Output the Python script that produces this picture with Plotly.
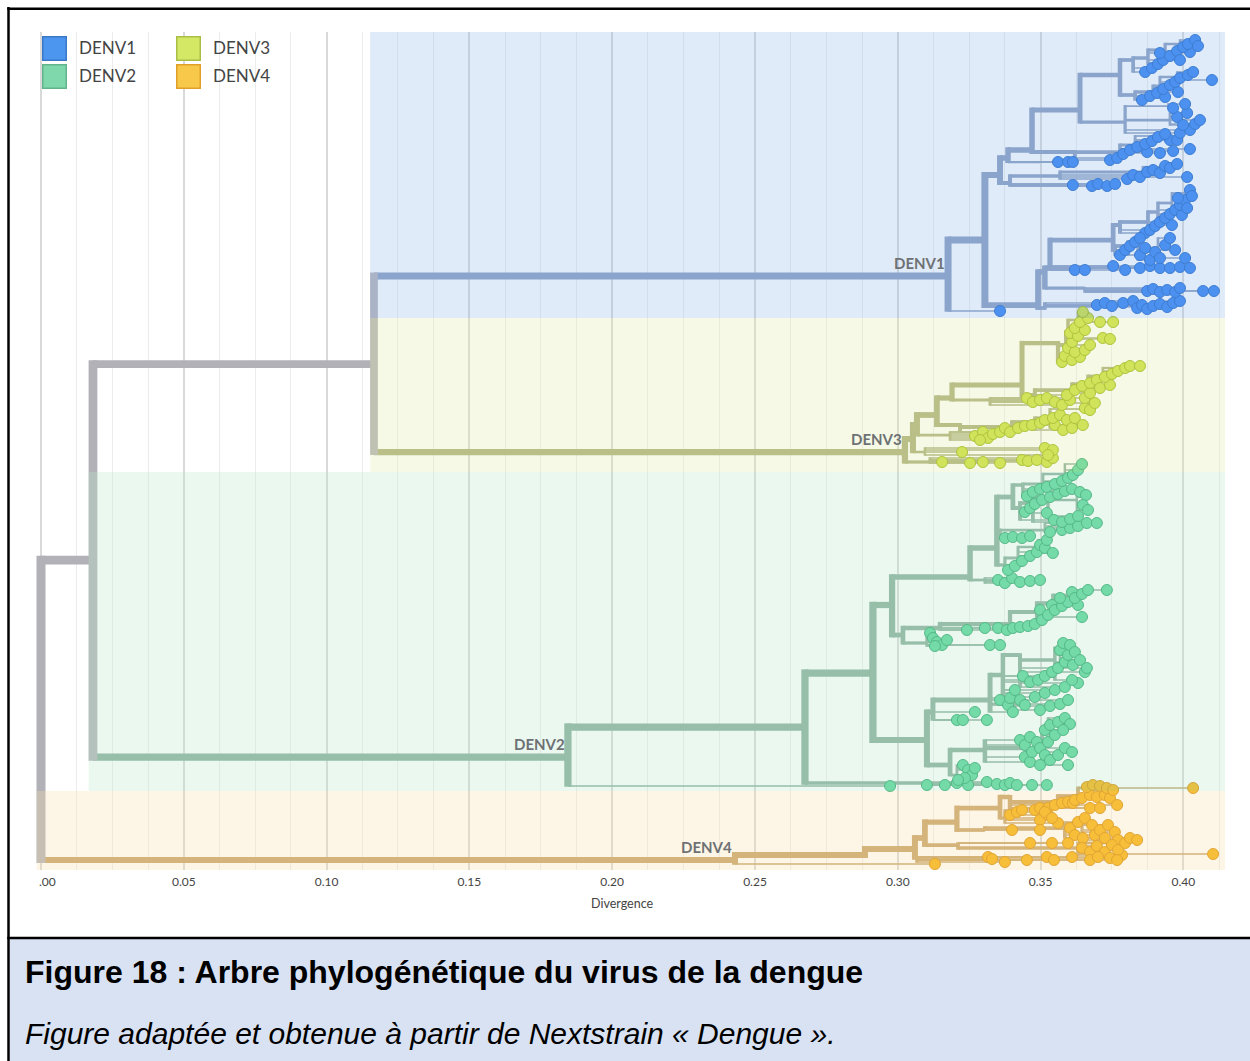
import math
from collections import defaultdict
import plotly.graph_objects as go

# ---------------------------------------------------------------- data
SEROTYPES = ["DENV1", "DENV2", "DENV3", "DENV4"]
X_TICKS = [0.00, 0.05, 0.10, 0.15, 0.20, 0.25, 0.30, 0.35, 0.40]
X_TICK_TEXT = ["", "0.05", "0.10", "0.15", "0.20", "0.25", "0.30", "0.35", "0.40"]
X_TITLE = "Divergence"
TITLE = "Figure 18 : Arbre phylogénétique du virus de la dengue"
SUBTITLE = "Figure adaptée et obtenue à partir de Nextstrain « Dengue »."

# tree nodes: (node, parent, divergence, row)   row = vertical order position
BACKBONE_NODES = [("R", None, 0.0, 560), ("A", "R", 0.0182, 560), ("B", "A", 0.1166, 364)]

DENV1_NODES = [
    ("D1", "B", 0.3176, 276), ("N1", "D1", 0.3305, 240), ("U", "N1", 0.3358, 175), ("L", "N1", 0.3491, 305),
    ("U2", "U", 0.3393, 183), ("U2a", "U2", 0.3568, 176), ("U2b", "U2a", 0.3859, 172), ("U2c", "U2b", 0.3925, 167),
    ("U1", "U", 0.3386, 158), ("U1t", "U1", 0.3498, 162), ("U1b", "U1", 0.3470, 150),
    ("S4", "U1b", 0.3620, 152), ("S4b", "S4", 0.3778, 152), ("S4c", "S4b", 0.3831, 145), ("S4d", "S4c", 0.3901, 136),
    ("U1c", "U1b", 0.3638, 110), ("S3", "U1c", 0.3796, 122), ("S3b", "S3", 0.3953, 120), ("S3c", "S3", 0.3946, 106),
    ("U1d", "U1c", 0.3778, 75), ("S2", "U1d", 0.3831, 95), ("S2b", "S2", 0.3894, 92), ("S2c", "S2b", 0.3918, 86),
    ("S2d", "S2c", 0.3978, 77), ("S1", "U1d", 0.3824, 60), ("S1b", "S1", 0.3876, 58), ("S1c", "S1b", 0.3936, 50),
    ("S1d", "S1c", 0.3988, 44),
    ("La", "L", 0.3515, 308), ("Lab", "La", 0.3736, 306), ("Lac", "Lab", 0.3831, 306), ("Lad", "Lac", 0.3901, 305),
    ("Lb2", "L", 0.3515, 272), ("Lb", "Lb2", 0.3655, 288), ("Lc", "Lb2", 0.3533, 268),
    ("Ld", "Lc", 0.3754, 240), ("Ld1", "Ld", 0.3778, 225), ("Ld1b", "Ld1", 0.3876, 222), ("Ld1c", "Ld1b", 0.3911, 212),
    ("Ld1d", "Ld1c", 0.3960, 203), ("Ld1e", "Ld1d", 0.4006, 193),
    ("Ld2", "Ld", 0.3761, 250), ("Ld2b", "Ld2", 0.3806, 246), ("Ld2c", "Ld2b", 0.3841, 242), ("Ld2d", "Ld2c", 0.3911, 248),
]
# tips: parent -> [(divergence, row), ...]
DENV1_TIPS = {
    "D1": [(0.3358, 311)],
    "U2": [(0.3613, 185), (0.3680, 186), (0.3701, 184), (0.3733, 186), (0.3761, 184)],
    "U2a": [(0.3803, 179), (0.3824, 175), (0.3848, 177)],
    "U2b": [(0.3873, 172), (0.3894, 170), (0.3918, 173), (0.4013, 177)],
    "U2c": [(0.3936, 166), (0.3953, 168), (0.3978, 164)],
    "U1t": [(0.3561, 162), (0.3596, 162), (0.3613, 162)],
    "S4": [(0.3743, 160), (0.3768, 158)],
    "S4b": [(0.3789, 154), (0.3813, 150), (0.3873, 152), (0.3918, 153), (0.3964, 151), (0.4023, 149)],
    "S4c": [(0.3838, 147), (0.3866, 144), (0.3890, 141), (0.3953, 140), (0.3978, 140)],
    "S4d": [(0.3911, 137), (0.3936, 134)],
    "S3": [(0.3988, 133), (0.4023, 130)],
    "S3b": [(0.3978, 117), (0.3999, 125), (0.4041, 124), (0.4058, 120), (0.4013, 113)],
    "S3c": [(0.3964, 108), (0.4006, 104)],
    "S2": [(0.3855, 100), (0.3883, 96)],
    "S2b": [(0.3908, 93), (0.3936, 97), (0.3981, 92)],
    "S2c": [(0.3929, 89), (0.3953, 85), (0.3971, 82)],
    "S2d": [(0.3988, 78), (0.4016, 75), (0.4034, 72), (0.4100, 80)],
    "S1": [(0.3866, 72), (0.3890, 68)],
    "S1b": [(0.3911, 64), (0.3929, 60), (0.3918, 53)],
    "S1c": [(0.3953, 56), (0.3978, 51), (0.3988, 60), (0.4023, 52)],
    "S1d": [(0.3999, 47), (0.4016, 44), (0.4041, 40), (0.4051, 46)],
    "La": [(0.3697, 305), (0.3725, 303)],
    "Lab": [(0.3750, 306), (0.3789, 303), (0.3824, 301)],
    "Lac": [(0.3838, 308), (0.3855, 305), (0.3873, 309), (0.3894, 306)],
    "Lad": [(0.3918, 304), (0.3943, 307), (0.3964, 303), (0.3988, 301)],
    "Lb": [(0.3873, 291), (0.3894, 289), (0.3918, 292), (0.3943, 290), (0.3971, 292), (0.3988, 288),
           (0.4069, 291), (0.4107, 291)],
    "Lc": [(0.3620, 270), (0.3655, 270), (0.3754, 266), (0.3796, 270), (0.3848, 268), (0.3883, 266),
           (0.3918, 268), (0.3953, 268), (0.3988, 267), (0.4023, 268)],
    "Ld1": [(0.3866, 233), (0.3883, 230)],
    "Ld1b": [(0.3901, 226), (0.3918, 222), (0.3960, 225)],
    "Ld1c": [(0.3936, 218), (0.3953, 214), (0.3971, 210), (0.3995, 215)],
    "Ld1d": [(0.3988, 205), (0.4006, 200), (0.3981, 198), (0.4013, 208)],
    "Ld1e": [(0.4023, 190), (0.4030, 196)],
    "Ld2": [(0.3778, 255), (0.3796, 250)],
    "Ld2b": [(0.3813, 246), (0.3831, 242), (0.3848, 255)],
    "Ld2c": [(0.3848, 238), (0.3866, 248), (0.3883, 260), (0.3901, 252)],
    "Ld2d": [(0.3918, 258), (0.3936, 245), (0.3953, 238), (0.3971, 250), (0.4006, 258)],
}

DENV3_NODES = [
    ("D3", "B", 0.3025, 452), ("Eb", "D3", 0.3113, 462), ("E1", "D3", 0.3053, 439),
    ("Ec", "E1", 0.3095, 452), ("E2", "E1", 0.3067, 425), ("Ed", "E2", 0.3183, 435),
    ("E3", "E2", 0.3137, 415), ("Ee", "E3", 0.3218, 425), ("Eeb", "Ee", 0.3400, 427),
    ("Eec", "Eeb", 0.3480, 422), ("Eed", "Eec", 0.3533, 418), ("Eee", "Eed", 0.3638, 409),
    ("E4", "E3", 0.3190, 398), ("Ef", "E4", 0.3323, 400), ("E5", "E4", 0.3435, 385),
    ("Eg", "E5", 0.3480, 395), ("Egb", "Eg", 0.3610, 390), ("Egc", "Egb", 0.3666, 384),
    ("Egd", "Egc", 0.3718, 376), ("Ege", "Egd", 0.3785, 368),
    ("Eh", "E5", 0.3561, 343), ("Ehb", "Eh", 0.3589, 345), ("Ehc", "Ehb", 0.3596, 332), ("Ehd", "Ehc", 0.3631, 320),
]
DENV3_TIPS = {
    "Eb": [(0.3155, 462), (0.3253, 463), (0.3298, 462), (0.3358, 463), (0.3435, 460), (0.3456, 461),
           (0.3487, 460), (0.3522, 462), (0.3543, 458)],
    "Ec": [(0.3225, 452), (0.3515, 448), (0.3543, 450), (0.3526, 455)],
    "Ed": [(0.3270, 436), (0.3298, 432), (0.3316, 438), (0.3333, 434), (0.3358, 432), (0.3288, 440)],
    "Ee": [(0.3375, 428), (0.3393, 432)],
    "Eeb": [(0.3421, 428), (0.3445, 426), (0.3470, 425)],
    "Eec": [(0.3498, 423), (0.3515, 420), (0.3550, 425), (0.3579, 430)],
    "Eed": [(0.3543, 418), (0.3568, 415), (0.3592, 420), (0.3610, 428), (0.3620, 418), (0.3648, 425)],
    "Eee": [(0.3655, 408), (0.3673, 410)],
    "Ef": [(0.3452, 398), (0.3473, 402), (0.3498, 400), (0.3522, 398), (0.3550, 402), (0.3575, 405),
           (0.3603, 400)],
    "Eg": [(0.3592, 395), (0.3655, 398), (0.3690, 403)],
    "Egb": [(0.3620, 390), (0.3673, 393), (0.3645, 386)],
    "Egc": [(0.3673, 383), (0.3697, 380), (0.3708, 388), (0.3743, 385)],
    "Egd": [(0.3725, 377), (0.3750, 374), (0.3771, 371)],
    "Ege": [(0.3796, 368), (0.3813, 366), (0.3848, 366)],
    "Eh": [(0.3575, 362), (0.3585, 356), (0.3610, 360), (0.3638, 357)],
    "Ehb": [(0.3596, 348), (0.3620, 352), (0.3655, 350), (0.3610, 342), (0.3673, 345)],
    "Ehc": [(0.3603, 333), (0.3631, 336), (0.3718, 338), (0.3743, 339), (0.3620, 328), (0.3655, 330)],
    "Ehd": [(0.3638, 322), (0.3666, 318), (0.3648, 312), (0.3708, 322), (0.3754, 322)],
}

DENV2_NODES = [
    ("D2", "A", 0.1845, 757), ("Fa", "D2", 0.2675, 727), ("Fb", "Fa", 0.2913, 673), ("Fc", "Fa", 0.3095, 783),
    ("G1", "Fb", 0.2980, 605), ("G1a", "G1", 0.3253, 577), ("G1a1", "G1a", 0.3305, 580), ("G1a2", "G1a", 0.3347, 548),
    ("G1a3", "G1a2", 0.3375, 565), ("G1a3b", "G1a3", 0.3421, 558), ("G1a3c", "G1a3b", 0.3491, 547),
    ("G1a5", "G1a2", 0.3358, 537), ("G1a5b", "G1a5", 0.3515, 530),
    ("G1a4", "G1a2", 0.3403, 497), ("G1a6", "G1a4", 0.3428, 508), ("G1a6b", "G1a6", 0.3473, 503),
    ("G1a6c", "G1a6b", 0.3526, 497), ("G1a6d", "G1a6c", 0.3627, 500),
    ("G1a7", "G1a4", 0.3438, 485), ("G1a7b", "G1a7", 0.3508, 484), ("G1a7c", "G1a7b", 0.3585, 474),
    ("G1b", "G1", 0.3018, 635), ("G1c", "G1b", 0.3148, 628), ("G1cb", "G1c", 0.3393, 624),
    ("G1cc", "G1cb", 0.3487, 612), ("G1cd", "G1cc", 0.3543, 603), ("G1ce", "G1cd", 0.3603, 595),
    ("G1d", "G1b", 0.3102, 643),
    ("G2", "Fb", 0.3102, 740), ("G2a", "G2", 0.3123, 712), ("G2a1", "G2a", 0.3323, 700),
    ("G2a1b", "G2a1", 0.3410, 704), ("G2a2", "G2a1", 0.3368, 675), ("G2a3", "G2a2", 0.3428, 655),
    ("G2a3b", "G2a3", 0.3550, 660), ("G2a3c", "G2a3b", 0.3568, 648),
    ("G2b", "G2", 0.3183, 765), ("G2c", "G2b", 0.3305, 750), ("G2cb", "G2c", 0.3456, 748),
    ("G2cc", "G2cb", 0.3505, 740), ("G2cd", "G2cc", 0.3526, 728), ("G2d", "G2b", 0.3207, 775),
]
DENV2_TIPS = {
    "D2": [(0.2973, 786)],
    "Fc": [(0.3102, 785), (0.3165, 785), (0.3207, 783), (0.3246, 785), (0.3312, 782), (0.3347, 784),
           (0.3375, 785), (0.3393, 783), (0.3417, 785), (0.3470, 785), (0.3522, 785)],
    "G1a1": [(0.3351, 580), (0.3375, 583), (0.3400, 578), (0.3428, 582), (0.3463, 581), (0.3498, 580)],
    "G1a3": [(0.3386, 570), (0.3410, 566)],
    "G1a3b": [(0.3435, 561), (0.3463, 556), (0.3487, 552)],
    "G1a3c": [(0.3498, 545), (0.3515, 548), (0.3522, 540), (0.3543, 553)],
    "G1a5": [(0.3375, 538), (0.3403, 537), (0.3435, 538), (0.3463, 536)],
    "G1a5b": [(0.3533, 532), (0.3575, 530), (0.3603, 528), (0.3631, 526), (0.3662, 523), (0.3697, 523)],
    "G1a6": [(0.3445, 512), (0.3463, 508), (0.3522, 513), (0.3547, 520)],
    "G1a6b": [(0.3480, 504), (0.3505, 500), (0.3575, 522)],
    "G1a6c": [(0.3533, 497), (0.3561, 494), (0.3585, 491), (0.3610, 489), (0.3603, 519), (0.3631, 516)],
    "G1a6d": [(0.3638, 492), (0.3659, 495), (0.3648, 505), (0.3666, 510)],
    "G1a7": [(0.3452, 496), (0.3473, 492), (0.3498, 489)],
    "G1a7b": [(0.3522, 487), (0.3550, 484), (0.3575, 481)],
    "G1a7c": [(0.3596, 478), (0.3613, 475), (0.3631, 470), (0.3645, 464)],
    "G1c": [(0.3242, 630), (0.3305, 628), (0.3351, 628), (0.3382, 630)],
    "G1cb": [(0.3403, 628), (0.3428, 627), (0.3456, 626), (0.3480, 624)],
    "G1cc": [(0.3498, 610), (0.3505, 620), (0.3526, 615), (0.3540, 605), (0.3645, 617)],
    "G1cd": [(0.3550, 610), (0.3575, 606), (0.3596, 602), (0.3568, 598), (0.3631, 605)],
    "G1ce": [(0.3610, 592), (0.3620, 598), (0.3645, 594), (0.3666, 590), (0.3732, 590)],
    "G1d": [(0.3113, 633), (0.3123, 638), (0.3137, 642), (0.3155, 645), (0.3130, 646), (0.3172, 640),
            (0.3323, 645), (0.3358, 645)],
    "G2a": [(0.3207, 720), (0.3228, 720), (0.3270, 712), (0.3312, 720)],
    "G2a1": [(0.3358, 700), (0.3386, 705), (0.3393, 698), (0.3403, 712)],
    "G2a1b": [(0.3428, 700), (0.3445, 705), (0.3498, 710), (0.3533, 706), (0.3568, 704), (0.3596, 700)],
    "G2a2": [(0.3410, 690), (0.3438, 676), (0.3463, 682), (0.3480, 697), (0.3491, 680), (0.3515, 676),
             (0.3515, 693), (0.3550, 690)],
    "G2a3": [(0.3540, 672), (0.3561, 668), (0.3585, 687), (0.3631, 683)],
    "G2a3b": [(0.3568, 650), (0.3585, 662), (0.3610, 680), (0.3613, 665), (0.3596, 655)],
    "G2a3c": [(0.3579, 643), (0.3603, 645), (0.3620, 652), (0.3638, 660), (0.3655, 672), (0.3662, 668)],
    "G2c": [(0.3428, 740), (0.3445, 745), (0.3445, 757), (0.3463, 762)],
    "G2cb": [(0.3463, 737), (0.3470, 752), (0.3487, 742), (0.3498, 748), (0.3498, 765)],
    "G2cc": [(0.3515, 730), (0.3515, 755), (0.3526, 742), (0.3533, 760), (0.3550, 735), (0.3561, 755),
             (0.3585, 748), (0.3610, 752), (0.3596, 765)],
    "G2cd": [(0.3533, 725), (0.3561, 722), (0.3585, 718), (0.3603, 724), (0.3579, 730)],
    "G2d": [(0.3228, 765), (0.3246, 770), (0.3260, 775), (0.3235, 778), (0.3211, 780), (0.3270, 768)],
}

DENV4_NODES = [
    ("D4", "R", 0.2430, 860), ("H0", "D4", 0.2885, 855), ("H1", "H0", 0.3060, 849), ("H2", "H1", 0.3095, 838),
    ("H3", "H2", 0.3207, 822), ("H4", "H3", 0.3358, 808), ("H4a", "H4", 0.3393, 797),
    ("H4ab", "H4a", 0.3561, 802), ("H4ac", "H4ab", 0.3631, 796), ("H4ad", "H4ac", 0.3655, 788),
    ("H4b", "H4", 0.3375, 818), ("H5", "H3", 0.3305, 830), ("H5b", "H5", 0.3585, 828),
    ("H5c", "H5b", 0.3645, 824), ("H6", "H2", 0.3211, 845), ("H6b", "H6", 0.3631, 848),
    ("H6c", "H6b", 0.3736, 843), ("H7", "H1", 0.3067, 858),
]
DENV4_TIPS = {
    "D4": [(0.3130, 864)],
    "H4a": [(0.3480, 810), (0.3498, 808), (0.3526, 808), (0.3550, 805)],
    "H4ab": [(0.3575, 803), (0.3596, 802), (0.3613, 803), (0.3620, 800), (0.3673, 808), (0.3708, 808)],
    "H4ac": [(0.3645, 798), (0.3673, 795), (0.3697, 797), (0.3725, 795), (0.3743, 798), (0.3768, 805)],
    "H4ad": [(0.3662, 787), (0.3683, 785), (0.3708, 786), (0.3732, 788), (0.3754, 790), (0.4034, 788)],
    "H4b": [(0.3393, 815), (0.3417, 812), (0.3435, 810), (0.3498, 820), (0.3526, 815), (0.3561, 823),
            (0.3515, 812), (0.3540, 818)],
    "H5": [(0.3400, 830), (0.3498, 830)],
    "H5b": [(0.3603, 828), (0.3620, 835), (0.3648, 838), (0.3631, 822)],
    "H5c": [(0.3655, 818), (0.3680, 825), (0.3690, 835), (0.3708, 830), (0.3725, 838), (0.3736, 825),
            (0.3760, 832), (0.3771, 840)],
    "H6": [(0.3463, 843), (0.3540, 843), (0.3596, 843)],
    "H6b": [(0.3645, 848), (0.3673, 852), (0.3697, 846), (0.3725, 852), (0.3785, 855), (0.4104, 854)],
    "H6c": [(0.3750, 845), (0.3771, 850), (0.3796, 843), (0.3813, 838), (0.3838, 840)],
    "H7": [(0.3316, 857), (0.3330, 859), (0.3375, 862), (0.3452, 860), (0.3522, 857), (0.3547, 860),
           (0.3610, 857), (0.3673, 860), (0.3701, 857), (0.3743, 858), (0.3768, 860)],
}

CLADES = [("DENV1", DENV1_NODES, DENV1_TIPS), ("DENV3", DENV3_NODES, DENV3_TIPS),
          ("DENV2", DENV2_NODES, DENV2_TIPS), ("DENV4", DENV4_NODES, DENV4_TIPS)]
CLADE_ROOT = {"DENV1": "D1", "DENV2": "D2", "DENV3": "D3", "DENV4": "D4"}

# ---------------------------------------------------------------- style
W, H = 1250, 1061
PLOT_L, PLOT_R, PLOT_T, PLOT_B = 36, 1225, 32, 870
X_MIN, X_MAX = -0.00175, 0.41457
PX_PER_UNIT = (PLOT_R - PLOT_L) / (X_MAX - X_MIN)

BRANCH_COLOR = {"root": "#B2B1B7", "DENV1": "#849ABF", "DENV2": "#87AC98",
                "DENV3": "#A9AC77", "DENV4": "#C5A165"}
TIP_FILL = {"DENV1": "#2B7FF2", "DENV2": "#56D498", "DENV3": "#CAE037", "DENV4": "#F7AF09"}
TIP_EDGE = {"DENV1": "#1761C7", "DENV2": "#2AA569", "DENV3": "#9BB20C", "DENV4": "#D78B00"}
BAND_COLOR = {"DENV1": "rgb(152,188,235)", "DENV3": "rgb(222,235,172)",
              "DENV2": "rgb(185,232,205)", "DENV4": "rgb(248,225,172)"}
BAND_ROWS = {"DENV1": (PLOT_T, 318), "DENV3": (318, 472), "DENV2": (472, 791), "DENV4": (791, PLOT_B)}
LEGEND_FILL = {"DENV1": "#4C96F0", "DENV2": "#7ED8AC", "DENV3": "#D4E866", "DENV4": "#F8C84B"}
LEGEND_EDGE = {"DENV1": "#3A78C8", "DENV2": "#62B48C", "DENV3": "#A9BE46", "DENV4": "#E0A028"}


def pxx(px):
    return (px - PLOT_L) / (PLOT_R - PLOT_L)


def pxy(py):
    return (PLOT_B - py) / (PLOT_B - PLOT_T)


# ---------------------------------------------------------------- tree
nodes, children, order = {}, defaultdict(list), []


def add_node(nid, parent, x, y, clade):
    nodes[nid] = dict(parent=parent, x=x, y=y, clade=clade)
    order.append(nid)
    if parent is not None:
        children[parent].append(nid)


for nid, par, x, y in BACKBONE_NODES:
    add_node(nid, par, x, y, "root")
for clade, nlist, tipmap in CLADES:
    for nid, par, x, y in nlist:
        add_node(nid, par, x, y, clade)
    for par, pts in tipmap.items():
        for i, (x, y) in enumerate(pts):
            add_node(f"{par}_t{i}", par, x, y, clade)

ntips = {}


def count(nid):
    ch = children.get(nid, [])
    ntips[nid] = 1 if not ch else sum(count(c) for c in ch)
    return ntips[nid]


count("R")
N_TOTAL = ntips["R"]


def bw(nid):
    n = ntips[nid]
    return 1.5 + 7.5 * (math.log(n) / math.log(N_TOTAL)) ** 1.4


groups = defaultdict(lambda: ([], []))


def add_seg(color, w, x0, y0, x1, y1):
    xs, ys = groups[(color, round(w * 4) / 4)]
    xs += [x0, x1, None]
    ys += [y0, y1, None]


for nid in order:
    nd = nodes[nid]
    w, col = bw(nid), BRANCH_COLOR[nd["clade"]]
    if nd["parent"] is not None:
        p = nodes[nd["parent"]]
        add_seg(col, w, p["x"], nd["y"], nd["x"], nd["y"])
    ch = children.get(nid, [])
    if ch:
        top = min(ch, key=lambda c: nodes[c]["y"])
        bot = max(ch, key=lambda c: nodes[c]["y"])
        y0 = min(nodes[top]["y"], nd["y"]) - bw(top) / 2
        y1 = max(nodes[bot]["y"], nd["y"]) + bw(bot) / 2
        add_seg(col, w, nd["x"], y0, nd["x"], y1)

fig = go.Figure()
for key in sorted(groups, key=lambda k: k[1]):
    xs, ys = groups[key]
    fig.add_trace(go.Scatter(x=xs, y=ys, mode="lines", line=dict(color=key[0], width=key[1]),
                             hoverinfo="skip", showlegend=False))

for clade in SEROTYPES:
    tip_ids = [n for n in order if nodes[n]["clade"] == clade and not children.get(n)]
    fig.add_trace(go.Scatter(
        x=[nodes[n]["x"] for n in tip_ids], y=[nodes[n]["y"] for n in tip_ids], mode="markers",
        marker=dict(size=11, color=TIP_FILL[clade], line=dict(color=TIP_EDGE[clade], width=1)),
        name=clade, hoverinfo="skip", showlegend=False))

# ---------------------------------------------------------------- shapes
shapes = []
band_parent = {"DENV1": "B", "DENV3": "B", "DENV2": "A", "DENV4": "R"}
for clade in ["DENV1", "DENV3", "DENV2", "DENV4"]:
    par = band_parent[clade]
    x0 = nodes[par]["x"] - (bw(par) / 2) / PX_PER_UNIT
    r0, r1 = BAND_ROWS[clade]
    shapes.append(dict(type="rect", xref="x", yref="y", x0=x0, x1=X_MAX, y0=r0, y1=r1,
                       fillcolor=BAND_COLOR[clade], opacity=0.3, line=dict(width=0), layer="above"))

shapes.append(dict(type="rect", xref="paper", yref="paper", x0=pxx(36), x1=pxx(345), y0=pxy(93),
                   y1=pxy(32), fillcolor="white", opacity=0.75, line=dict(width=0), layer="between"))
leg_pos = {"DENV1": (42, 36), "DENV2": (42, 64), "DENV3": (176, 36), "DENV4": (176, 64)}
annotations = []
for clade, (lx, ly) in leg_pos.items():
    shapes.append(dict(type="rect", xref="paper", yref="paper", x0=pxx(lx + 0.75), x1=pxx(lx + 24.25),
                       y0=pxy(ly + 24.25), y1=pxy(ly + 0.75), fillcolor=LEGEND_FILL[clade],
                       line=dict(color=LEGEND_EDGE[clade], width=1.5), layer="above"))
    annotations.append(dict(text=clade, xref="paper", yref="paper", x=pxx(lx + 35), y=pxy(ly + 12),
                            xanchor="left", yanchor="middle", showarrow=False,
                            font=dict(family="Lato", size=17, color="#444444")))

shapes.append(dict(type="rect", xref="paper", yref="paper", x0=pxx(9.5), x1=pxx(1262), y0=pxy(1075),
                   y1=pxy(939), fillcolor="#D9E2F3", line=dict(width=0), layer="below"))
for (ax0, ay0, ax1, ay1) in [(8.5, 7, 8.5, 1075), (7.25, 8.75, 1262, 8.75), (7.25, 938, 1262, 938)]:
    shapes.append(dict(type="line", xref="paper", yref="paper", x0=pxx(ax0), x1=pxx(ax1),
                       y0=pxy(ay0), y1=pxy(ay1), line=dict(color="black", width=2.5), layer="above"))

for clade, nid in CLADE_ROOT.items():
    nd = nodes[nid]
    annotations.append(dict(text=clade, x=nd["x"], y=nd["y"] - 13, xref="x", yref="y",
                            xanchor="right", yanchor="middle", xshift=-1, showarrow=False,
                            font=dict(family="Lato", size=15, color="#6E7174", weight="bold")))

annotations.append(dict(text=".00", x=0.0, y=pxy(881), xref="x", yref="paper", xanchor="left",
                        yanchor="middle", xshift=-4, showarrow=False,
                        font=dict(family="Lato", size=12, color="#444444")))
annotations.append(dict(text=X_TITLE, x=0.2034, y=pxy(903), xref="x", yref="paper", xanchor="center",
                        yanchor="middle", showarrow=False,
                        font=dict(family="Lato", size=12.5, color="#444444")))
annotations.append(dict(text=f"<b>{TITLE}</b>", x=pxx(23), y=pxy(972), xref="paper", yref="paper",
                        xanchor="left", yanchor="middle", showarrow=False,
                        font=dict(family="Liberation Sans, Arial", size=32, color="black")))
annotations.append(dict(text=f"<i>{SUBTITLE}</i>", x=pxx(23), y=pxy(1033), xref="paper", yref="paper",
                        xanchor="left", yanchor="middle", showarrow=False,
                        font=dict(family="Liberation Sans, Arial", size=30, color="black")))

MINOR_TICKS = [i * 0.0125 for i in range(34)]
fig.update_xaxes(range=[X_MIN, X_MAX], tickmode="array", tickvals=X_TICKS, ticktext=X_TICK_TEXT,
                 showgrid=True, gridcolor="#D9D9D9", gridwidth=1.8, zeroline=False, showline=False,
                 ticks="outside", ticklen=1, tickcolor="rgba(0,0,0,0)",
                 tickfont=dict(family="Lato", size=12, color="#444444"),
                 minor=dict(tickmode="array", tickvals=MINOR_TICKS, showgrid=True,
                            gridcolor="#ECECEC", gridwidth=1, ticks=""),
                 fixedrange=True)
fig.update_yaxes(range=[PLOT_B, PLOT_T], visible=False, fixedrange=True)
fig.update_layout(width=W, height=H, margin=dict(l=PLOT_L, r=W - PLOT_R, t=PLOT_T, b=H - PLOT_B, pad=0),
                  paper_bgcolor="white", plot_bgcolor="white", showlegend=False,
                  shapes=shapes, annotations=annotations)

fig.write_html("out.html", config={"displayModeBar": False},
               post_script="document.body.style.margin='0px';")
